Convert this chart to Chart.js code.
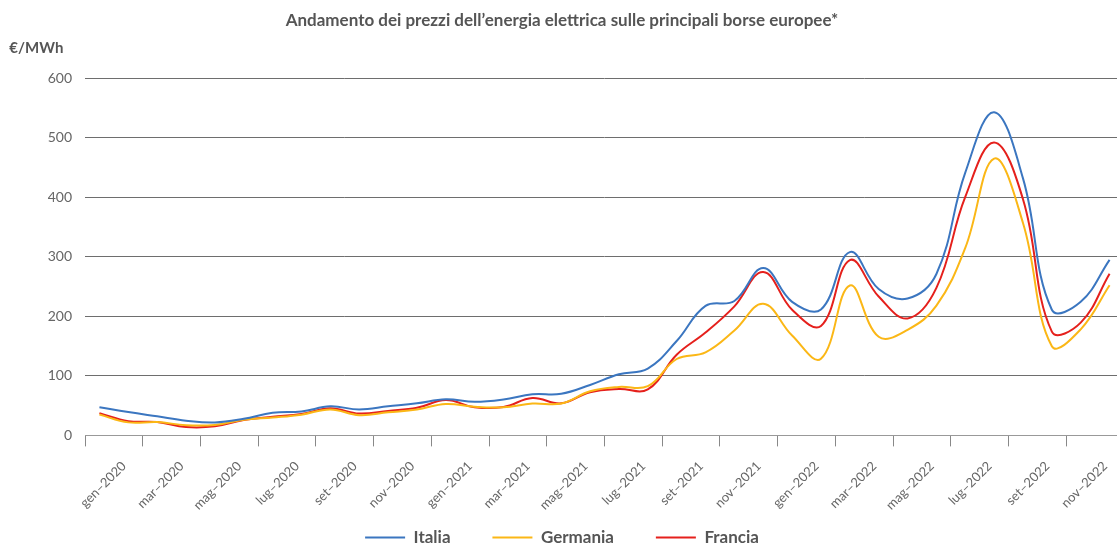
<!DOCTYPE html>
<html>
<head>
<meta charset="utf-8">
<script src="https://cdn.jsdelivr.net/npm/chart.js@4/dist/chart.umd.min.js"></script>
<style>
  html, body { margin: 0; padding: 0; background: #fff; overflow: hidden; }
  #wrap { width: 1124px; height: 545px; }
</style>
</head>
<body>
<div id="wrap"><canvas id="prezzi"></canvas></div>
<script>
// monthly averages, gen-2020 .. dic-2022 (€/MWh)
const months = [
  'gen-2020','feb-2020','mar-2020','apr-2020','mag-2020','giu-2020','lug-2020','ago-2020','set-2020','ott-2020','nov-2020','dic-2020',
  'gen-2021','feb-2021','mar-2021','apr-2021','mag-2021','giu-2021','lug-2021','ago-2021','set-2021','ott-2021','nov-2021','dic-2021',
  'gen-2022','feb-2022','mar-2022','apr-2022','mag-2022','giu-2022','lug-2022','ago-2022','set-2022','ott-2022','nov-2022','dic-2022'
];
const tickLabels = [
  'gen–2020','mar–2020','mag–2020','lug–2020','set–2020','nov–2020',
  'gen–2021','mar–2021','mag–2021','lug–2021','set–2021','nov–2021',
  'gen–2022','mar–2022','mag–2022','lug–2022','set–2022','nov–2022'
];
const italia = [47.5, 39.3, 32.0, 24.8, 21.8, 28.0, 38.0, 40.3, 48.8, 43.6, 48.8, 54.0,
  60.7, 56.6, 60.4, 69.0, 69.9, 84.8, 102.7, 112.4, 158.6, 217.6, 225.9, 281.2,
  224.5, 211.7, 308.1, 245.9, 230.1, 271.3, 441.6, 543.2, 432.0, 211.1, 224.5, 294.9];
const germania = [35.0, 21.9, 22.5, 17.1, 17.6, 26.2, 30.1, 34.9, 43.7, 33.9, 38.8, 43.5,
  52.8, 48.0, 47.2, 53.6, 53.6, 74.1, 81.5, 82.7, 128.4, 139.5, 176.2, 221.1,
  167.9, 128.8, 252.0, 165.7, 177.5, 218.1, 315.0, 465.2, 357.0, 150.0, 178.3, 252.4];
const francia = [37.5, 24.0, 22.4, 14.1, 15.3, 25.8, 31.2, 36.1, 45.6, 36.7, 41.2, 46.3,
  59.3, 47.4, 47.7, 62.9, 53.9, 72.6, 78.0, 77.4, 135.6, 172.8, 216.9, 274.8,
  211.2, 183.9, 294.6, 233.4, 196.6, 247.9, 400.9, 492.4, 397.0, 174.5, 189.5, 271.8];

const textGray = '#555';
const tickGray = '#666';

const mkLine = (label, data, color) => ({
  label, data,
  borderColor: color,
  backgroundColor: color,
  borderWidth: 2,
  pointRadius: 0,
  tension: 0.4,
  fill: false
});

new Chart(document.getElementById('prezzi'), {
  type: 'line',
  data: {
    labels: months,
    datasets: [
      mkLine('Italia', italia, '#3b76c0'),
      mkLine('Germania', germania, '#fbb716'),
      mkLine('Francia', francia, '#e5201c')
    ]
  },
  options: {
    responsive: true,
    maintainAspectRatio: false,
    animation: false,
    layout: { padding: { left: 0, right: 0, bottom: -11 } },
    plugins: {
      title: {
        display: true,
        text: 'Andamento dei prezzi dell’energia elettrica sulle principali borse europee*',
        color: textGray,
        font: { family: 'Lato', size: 17, weight: 'bold' },
        padding: { top: 10, bottom: 4 }
      },
      subtitle: {
        display: true,
        text: '\u2002\u2009€/MWh',
        align: 'start',
        color: textGray,
        font: { family: 'Lato', size: 15, weight: 'bold' },
        padding: { top: 5, bottom: 21 }
      },
      legend: {
        position: 'bottom',
        labels: {
          boxWidth: 40,
          boxHeight: 2,
          padding: 4,
          color: textGray,
          font: { family: 'Lato', size: 17, weight: 'bold' },
          // wider gaps between items without a tall legend box
          generateLabels: chart => {
            const items = Chart.defaults.plugins.legend.labels.generateLabels(chart);
            return items.map((l, i) => ({
              ...l,
              text: i < items.length - 1 ? l.text + '\u2003\u2003   ' : l.text,
              lineWidth: 0,
              fillStyle: l.strokeStyle
            }));
          }
        }
      },
      tooltip: { enabled: false }
    },
    scales: {
      x: {
        type: 'category',
        offset: true,
        display: false
      },
      x2: {
        type: 'category',
        axis: 'x',
        position: 'bottom',
        labels: tickLabels,
        offset: true,
        grid: {
          offset: true,
          drawOnChartArea: false,
          tickLength: 11,
          tickColor: '#888'
        },
        border: { color: '#999', width: 1 },
        ticks: {
          autoSkip: false,
          maxRotation: 45,
          minRotation: 45,
          labelOffset: 10,
          padding: 12,
          color: tickGray,
          font: { family: 'Lato', size: 13 }
        }
      },
      y: {
        min: 0,
        max: 600,
        afterFit: s => { s.width = 85; },
        ticks: {
          stepSize: 100,
          padding: 13,
          color: tickGray,
          font: { family: 'Lato', size: 14 }
        },
        grid: {
          color: '#6e6e6e',
          lineWidth: 1,
          drawTicks: false
        },
        border: { display: false }
      }
    }
  }
});
</script>
</body>
</html>
